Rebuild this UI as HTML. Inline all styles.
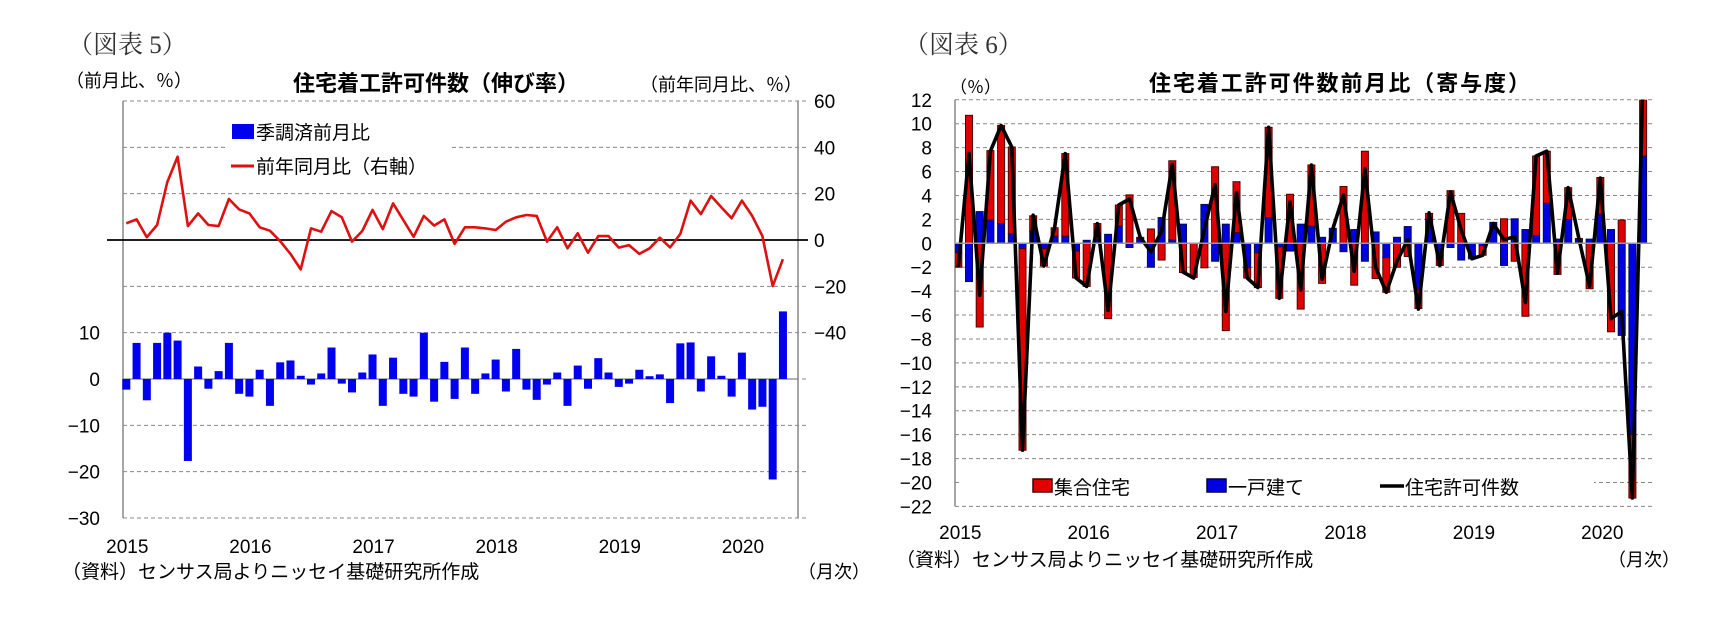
<!DOCTYPE html>
<html><head><meta charset="utf-8">
<style>
html,body{margin:0;padding:0;background:#fff;}
svg{display:block;}
.jp{font-family:"Liberation Sans","Noto Sans CJK JP",sans-serif;}
.sr{font-family:"Liberation Serif","Noto Serif CJK SC",serif;}
.num{font-family:"Liberation Sans Narrow","Liberation Sans",sans-serif;}
</style></head>
<body>
<svg id="chart" width="1732" height="627" viewBox="0 0 1732 627">
</svg>
<script>
// ---- Chart 5 data ----
const yearLabels5 = ["2015","2016","2017","2018","2019","2020"];
const momValues = [-2.3,7.8,-4.6,7.8,10,8.3,-17.7,2.7,-2.1,1.7,7.8,-3.2,
 -3.8,2.0,-5.8,3.6,4.0,0.7,-1.2,1.2,6.8,-1.0,-2.9,1.4,
 5.3,-5.8,4.6,-3.2,-3.8,10,-4.9,3.7,-4.3,6.8,-3.2,1.2,
 4.2,-2.7,6.5,-2.3,-4.5,-1.2,1.4,-5.8,2.9,-2.1,4.5,1.4,
 -1.7,-1.0,2.0,0.6,1.0,-5.2,7.7,7.9,-2.7,4.9,0.7,-3.8,
 5.7,-6.6,-6.0,-21.7,14.6];
const yoyValues = [7.2,8.9,1.2,6.5,25,36,6,11.5,6.5,6,17.7,13.2,
 11.5,5.5,4,-0.5,-6,-12.7,5,3.6,12.5,9.8,-0.7,3.9,
 13,4.7,15.8,8.6,1.4,10.4,6.2,8.9,-1.7,5.5,5.5,5,
 4.3,7.9,9.8,10.8,10.4,-0.7,5.5,-3.6,2.9,-5.5,1.7,1.7,
 -3.3,-2.2,-6,-3.6,1,-3.2,2.6,17,11.2,19,14.1,9.4,
 17,10.4,1.7,-19.9,-8.3];
const leftTicks5 = [10,0,-10,-20,-30];
const rightTicks5 = [60,40,20,0,-20,-40];

// ---- Chart 6 data ----
const yearLabels6 = ["2015","2016","2017","2018","2019","2020"];
const multiFamily = [-1.2,10.7,-7.0,5.8,8.2,7.25,-16.85,1.3,-1.45,0.7,6.9,-2.25,
 -3.6,1.35,-6.3,1.75,4.05,0.1,1.2,-1.4,6.6,-2.45,-2.85,-2.05,
 6.4,-7.3,4.25,-0.85,-2.9,7.55,-4.3,4.1,-5.5,5.1,-3.35,0,
 4.75,-3.5,7.7,-2.95,-2.9,-2.0,-1.1,-1.6,0.5,-0.8,4.4,2.5,
 0,-0.8,0,2.05,-1.5,-6.1,6.65,4.35,-2.6,2.65,0.1,-3.8,
 3.05,-7.4,1.95,-5.3,7.2];
const singleFamily = [-0.8,-3.2,2.65,1.95,1.65,0.8,-0.45,1.0,-0.45,0.6,0.6,-0.65,
 0.25,0.3,0.75,1.45,-0.35,0.4,-2.0,2.15,0.3,1.6,0,3.25,
 -1.5,1.6,0.9,-2.05,-0.8,2.15,-0.3,-0.65,1.6,1.45,0.5,1.25,
 -0.7,1.15,-1.5,0.95,-1.2,0.5,1.4,-3.85,2.0,-1.05,-0.35,-1.4,
 -1.3,-0.2,1.75,-1.85,2.05,1.15,0.65,3.35,0.35,2.0,0.3,0.35,
 2.45,1.15,-7.7,-16.0,7.3];
const totalValues = [-2.0,7.5,-4.35,7.7,9.85,8.05,-17.3,2.35,-1.9,1.3,7.5,-2.9,
 -3.6,1.65,-5.6,3.2,3.7,0.5,-0.7,1.0,6.6,-2.4,-2.9,1.2,
 4.9,-5.7,4.25,-2.9,-3.7,9.7,-4.6,3.45,-3.9,6.55,-3.0,1.2,
 4.05,-2.35,6.2,-2.0,-4.1,-1.5,0.3,-5.5,2.55,-1.85,4.3,1.1,
 -1.3,-1.0,1.65,0.3,0.55,-4.95,7.3,7.7,-2.5,4.65,0.4,-3.6,
 5.45,-6.3,-5.7,-21.3,14.5];
const yTicks6 = [12,10,8,6,4,2,0,-2,-4,-6,-8,-10,-12,-14,-16,-18,-20,-22];

const NS="http://www.w3.org/2000/svg";
const svg=document.getElementById('chart');
function mk(tag,attrs,parent){const e=document.createElementNS(NS,tag);for(const k in attrs)e.setAttribute(k,attrs[k]);(parent||svg).appendChild(e);return e;}
function txt(s,attrs,parent){const e=mk('text',attrs,parent);e.textContent=s;return e;}

// ===== Chart 5 axes =====
const P5={l:123,r:798,t:101,b:518};
const x5=i=>126.3+10.26*i;
const yL5=v=>379-v*4.63;
const yR5=v=>240-v*2.315;
const g5=mk('g',{});


txt('（図表 5）',{x:68,y:53,'font-size':25,class:'sr',fill:'#333'},g5);
txt('（前月比、％）',{x:66,y:87,'font-size':18,class:'jp',fill:'#000'},g5);
txt('住宅着工許可件数（伸び率）',{x:293,y:91,'font-size':22,class:'jp',fill:'#000','font-weight':'bold'},g5);
txt('（前年同月比、％）',{x:640,y:91,'font-size':18,class:'jp',fill:'#000'},g5);
for(let k=0;k<=9;k++){
  const y=P5.t+k*(P5.b-P5.t)/9;
  const ln=mk('line',{x1:P5.l,x2:P5.r+8,y1:y,y2:y,stroke:'#888','stroke-width':1,'stroke-dasharray':'4 3'},g5);
  
}
mk('line',{x1:P5.l,x2:P5.r,y1:yL5(0),y2:yL5(0),stroke:'#999','stroke-width':1.5},g5);
mk('line',{x1:P5.l,y1:P5.t,x2:P5.l,y2:P5.b,stroke:'#888','stroke-width':1.5},g5);
mk('line',{x1:P5.r,y1:P5.t,x2:P5.r,y2:P5.b,stroke:'#888','stroke-width':1.5},g5);
mk('rect',{x:226,y:112,width:226,height:70,fill:'#fff'},g5);
momValues.forEach((v,i)=>{
  const y0=yL5(0),y1=yL5(v);
  const r=mk('rect',{x:x5(i)-4,y:Math.min(y0,y1),width:8,height:Math.abs(y1-y0),fill:'#0000f0'},g5);
  
  
});
mk('line',{x1:P5.l-16,x2:P5.r+10,y1:yR5(0),y2:yR5(0),stroke:'#000','stroke-width':1.8},g5);
const pts5=yoyValues.map((v,i)=>x5(i).toFixed(1)+','+yR5(v).toFixed(1)).join(' ');
const pl5=mk('polyline',{points:pts5,fill:'none',stroke:'#dd1111','stroke-width':2.6,'stroke-linejoin':'round'},g5);


leftTicks5.forEach(v=>{const t=txt(String(v).replace('-','−'),{x:100,y:yL5(v)+7,'font-size':19,'text-anchor':'end',class:'num'},g5);});
rightTicks5.forEach(v=>{const t=txt(String(v).replace('-','−'),{x:814,y:yR5(v)+7,'font-size':19,class:'num'},g5);});
yearLabels5.forEach((s,k)=>{const t=txt(s,{x:x5(k*12)+1,y:553,'font-size':19,'text-anchor':'middle',class:'num'},g5);});
mk('rect',{x:232,y:124,width:22,height:15,fill:'#0000f0'},g5);
txt('季調済前月比',{x:256,y:139,'font-size':19,class:'jp'},g5);
mk('line',{x1:231,x2:254,y1:166,y2:166,stroke:'#dd1111','stroke-width':3},g5);
txt('前年同月比（右軸）',{x:256,y:173,'font-size':19,class:'jp'},g5);
txt('（資料）センサス局よりニッセイ基礎研究所作成',{x:62,y:578,'font-size':19,class:'jp'},g5);
txt('（月次）',{x:798,y:578,'font-size':18,class:'jp'},g5);

// ===== Chart 6 =====
const P6={l:955,r:1652,t:99.8,b:506.4};
const x6=i=>958.3+10.7*i;
const y6=v=>243.3-v*11.96;
const g6=mk('g',{});


txt('（図表 6）',{x:904,y:53,'font-size':25,class:'sr',fill:'#333'},g6);
txt('住宅着工許可件数前月比（寄与度）',{x:1149,y:91,'font-size':22,class:'jp','font-weight':'bold',textLength:381},g6);
txt('（％）',{x:950,y:93,'font-size':17,class:'jp'},g6);
const clip=mk('clipPath',{id:'clip6'},g6);
mk('rect',{x:P6.l,y:P6.t,width:P6.r-P6.l+6,height:P6.b-P6.t},clip);
yTicks6.forEach(v=>{
  const ln=mk('line',{x1:P6.l,x2:P6.r,y1:y6(v),y2:y6(v),stroke:'#888','stroke-width':1,'stroke-dasharray':'4 3'},g6);
  
  const t=txt(String(v).replace('-','−'),{x:932,y:y6(v)+7,'font-size':19,'text-anchor':'end',class:'num'},g6);
  
});
mk('rect',{x:962,y:470,width:632,height:30,fill:'#fff'},g6);
mk('line',{x1:P6.l,y1:P6.t,x2:P6.l,y2:P6.b,stroke:'#888','stroke-width':1.5},g6);
const gc=mk('g',{'clip-path':'url(#clip6)'},g6);
multiFamily.forEach((m,i)=>{
  const s=singleFamily[i];
  let pos=0,neg=0;
  [[s,'#0000e0','#001050','single-family-bar'],[m,'#e00000','#500000','multi-family-bar']].forEach(([v,f,st,nm])=>{
    let a,b;
    if(v>=0){a=pos;b=pos+v;pos=b;}else{a=neg;b=neg+v;neg=b;}
    const yA=y6(a),yB=y6(b);
    const r=mk('rect',{x:x6(i)-3.5,y:Math.min(yA,yB),width:7,height:Math.abs(yB-yA),fill:f,stroke:st,'stroke-width':1},gc);
    
    
  });
});
mk('line',{x1:P6.l,x2:P6.r,y1:y6(0),y2:y6(0),stroke:'#999','stroke-width':1.5},g6);
const pts6=totalValues.map((v,i)=>x6(i).toFixed(1)+','+y6(v).toFixed(1)).join(' ');
const pl6=mk('polyline',{points:pts6,fill:'none',stroke:'#000','stroke-width':3.6,'stroke-linejoin':'round'},gc);


yearLabels6.forEach((s,k)=>{const t=txt(s,{x:x6(k*12)+2,y:539,'font-size':19,'text-anchor':'middle',class:'num'},g6);});
mk('rect',{x:1033,y:479,width:19,height:13,fill:'#e00000',stroke:'#400000','stroke-width':1.5},g6);
txt('集合住宅',{x:1054,y:494,'font-size':19,class:'jp'},g6);
mk('rect',{x:1207,y:479,width:19,height:13,fill:'#0000e0',stroke:'#000040','stroke-width':1.5},g6);
txt('一戸建て',{x:1228,y:494,'font-size':19,class:'jp'},g6);
mk('line',{x1:1380,x2:1404,y1:486,y2:486,stroke:'#000','stroke-width':3.6},g6);
txt('住宅許可件数',{x:1405,y:494,'font-size':19,class:'jp'},g6);
txt('（資料）センサス局よりニッセイ基礎研究所作成',{x:896,y:566,'font-size':19,class:'jp'},g6);
txt('（月次）',{x:1608,y:566,'font-size':18,class:'jp'},g6);
</script>
</body></html>
